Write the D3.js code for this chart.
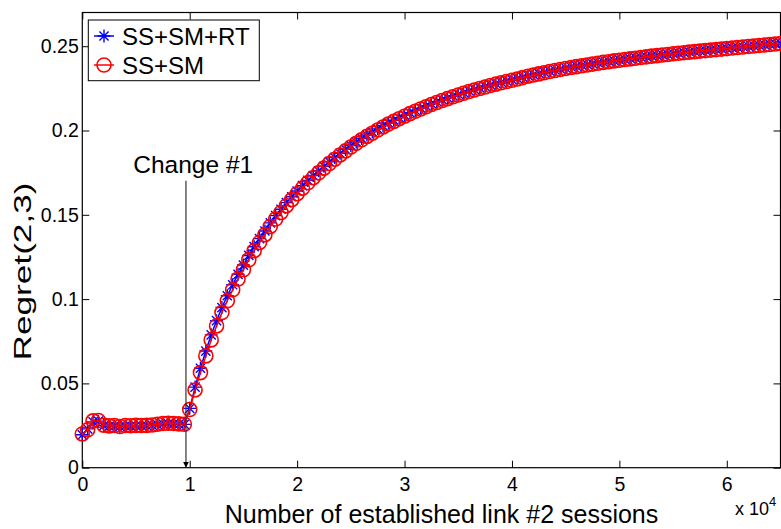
<!DOCTYPE html>
<html>
<head>
<meta charset="utf-8">
<script src="https://cdn.jsdelivr.net/npm/d3@7"></script>
<style>
  html, body { margin: 0; padding: 0; background: #fff; }
  svg { display: block; font-family: "Liberation Sans", Arial, Helvetica, sans-serif; }
</style>
</head>
<body>
<svg id="chart" width="781" height="529"></svg>
<script>
// Sample grid: number of established link #2 sessions (every 500 sessions)
const sessions = d3.range(0, 65001, 500);

// Regret(2,3) with sleeping + stochastic + recent-trend update
const regretSSSMRT = [
  0.0195, 0.0230, 0.0272, 0.0276, 0.0250, 0.0246, 0.0248, 0.0243, 0.0248, 0.0247,
  0.0249, 0.0249, 0.0250, 0.0252, 0.0256, 0.0260, 0.0262, 0.0260, 0.0258, 0.0257,
  0.0352, 0.0478, 0.0590, 0.0692, 0.0788, 0.0872, 0.0950, 0.1020, 0.1085, 0.1147,
  0.1202, 0.1259, 0.1311, 0.1359, 0.1404, 0.1452, 0.1495, 0.1533, 0.1572, 0.1607,
  0.1641, 0.1673, 0.1704, 0.1733, 0.1761, 0.1788, 0.1815, 0.1840, 0.1865, 0.1888,
  0.1911, 0.1932, 0.1953, 0.1973, 0.1992, 0.2010, 0.2028, 0.2045, 0.2061, 0.2076,
  0.2091, 0.2106, 0.2120, 0.2133, 0.2146, 0.2159, 0.2171, 0.2183, 0.2194, 0.2205,
  0.2215, 0.2225, 0.2235, 0.2244, 0.2253, 0.2262, 0.2271, 0.2279, 0.2287, 0.2294,
  0.2302, 0.2309, 0.2317, 0.2325, 0.2332, 0.2339, 0.2346, 0.2353, 0.2359, 0.2365,
  0.2371, 0.2377, 0.2382, 0.2387, 0.2392, 0.2397, 0.2402, 0.2406, 0.2411, 0.2415,
  0.2419, 0.2423, 0.2427, 0.2431, 0.2435, 0.2439, 0.2443, 0.2446, 0.2450, 0.2453,
  0.2457, 0.2460, 0.2463, 0.2467, 0.2470, 0.2473, 0.2476, 0.2479, 0.2482, 0.2485,
  0.2488, 0.2491, 0.2494, 0.2497, 0.2500, 0.2503, 0.2506, 0.2509, 0.2512, 0.2515,
  0.2518
];

// Regret(2,3) with sleeping + stochastic update only
const regretSSSM = [
  0.0200, 0.0225, 0.0278, 0.0280, 0.0252, 0.0248, 0.0250, 0.0244, 0.0250, 0.0249,
  0.0251, 0.0250, 0.0251, 0.0253, 0.0258, 0.0262, 0.0264, 0.0262, 0.0260, 0.0258,
  0.0345, 0.0461, 0.0564, 0.0663, 0.0758, 0.0841, 0.0920, 0.0990, 0.1055, 0.1119,
  0.1174, 0.1233, 0.1287, 0.1336, 0.1382, 0.1431, 0.1475, 0.1514, 0.1554, 0.1590,
  0.1625, 0.1658, 0.1690, 0.1720, 0.1749, 0.1777, 0.1804, 0.1830, 0.1855, 0.1879,
  0.1902, 0.1924, 0.1945, 0.1965, 0.1984, 0.2003, 0.2021, 0.2038, 0.2054, 0.2070,
  0.2085, 0.2100, 0.2114, 0.2128, 0.2141, 0.2154, 0.2166, 0.2178, 0.2189, 0.2200,
  0.2211, 0.2221, 0.2231, 0.2240, 0.2249, 0.2258, 0.2267, 0.2275, 0.2283, 0.2291,
  0.2298, 0.2306, 0.2314, 0.2322, 0.2329, 0.2336, 0.2343, 0.2350, 0.2356, 0.2362,
  0.2368, 0.2374, 0.2379, 0.2384, 0.2389, 0.2394, 0.2399, 0.2404, 0.2408, 0.2413,
  0.2417, 0.2421, 0.2425, 0.2429, 0.2433, 0.2437, 0.2441, 0.2444, 0.2448, 0.2451,
  0.2455, 0.2458, 0.2461, 0.2465, 0.2468, 0.2471, 0.2474, 0.2477, 0.2480, 0.2483,
  0.2486, 0.2489, 0.2492, 0.2495, 0.2498, 0.2501, 0.2504, 0.2507, 0.2510, 0.2513,
  0.2516
];

const seriesNames = ["SS+SM+RT", "SS+SM"];
const seriesColors = ["#0000ff", "#ff0000"];

const xTicks = [0, 10000, 20000, 30000, 40000, 50000, 60000];
const xTickLabels = ["0", "1", "2", "3", "4", "5", "6"];
const yTicks = [0, 0.05, 0.1, 0.15, 0.2, 0.25];
const yTickLabels = ["0", "0.05", "0.1", "0.15", "0.2", "0.25"];

const changePoint = 9650;       // session count where the change occurs
const changeLabel = "Change #1";

// ---- layout ----
const svg = d3.select("#chart");
const plot = { left: 82.3, right: 780.5, top: 12.5, bottom: 467.7 };

const x = d3.scaleLinear().domain([0, 65000]).range([plot.left, plot.right]);
const y = d3.scaleLinear().domain([0, 0.27]).range([plot.bottom, plot.top]);

// ---- axes (MATLAB style: ticks pointing inward, on all four sides) ----
const tickLen = 7;
const axisFont = 19.5;

function styleAxis(g) {
  g.select(".domain").remove();
  g.selectAll(".tick line").attr("stroke", "#000").attr("stroke-width", 1);
  g.selectAll(".tick text").attr("fill", "#000").style("font-size", axisFont + "px");
}

svg.append("g")
  .attr("transform", `translate(0,${plot.bottom})`)
  .call(d3.axisBottom(x).tickValues(xTicks).tickFormat((d, i) => xTickLabels[i])
    .tickSizeInner(-tickLen).tickSizeOuter(0).tickPadding(tickLen + 2))
  .call(styleAxis);

svg.append("g")
  .attr("transform", `translate(0,${plot.top})`)
  .call(d3.axisTop(x).tickValues(xTicks).tickFormat("")
    .tickSizeInner(-tickLen).tickSizeOuter(0))
  .call(styleAxis);

svg.append("g")
  .attr("transform", `translate(${plot.left},0)`)
  .call(d3.axisLeft(y).tickValues(yTicks).tickFormat((d, i) => yTickLabels[i])
    .tickSizeInner(-tickLen).tickSizeOuter(0).tickPadding(3.5))
  .call(styleAxis);

svg.append("g")
  .attr("transform", `translate(${plot.right},0)`)
  .call(d3.axisRight(y).tickValues(yTicks).tickFormat("")
    .tickSizeInner(-tickLen).tickSizeOuter(0))
  .call(styleAxis);

// frame around the plot area
svg.append("rect")
  .attr("x", plot.left).attr("y", plot.top)
  .attr("width", plot.right - plot.left).attr("height", plot.bottom - plot.top)
  .attr("fill", "none").attr("stroke", "#000").attr("stroke-width", 1.2);

// exponent label for the x axis
const expo = svg.append("text")
  .attr("x", 735).attr("y", 515)
  .style("font-size", "18px").attr("fill", "#000");
expo.append("tspan").text("x 10");
expo.append("tspan").attr("dy", -9).style("font-size", "13px").text("4");

// axis titles
svg.append("text")
  .attr("x", 441.5).attr("y", 523)
  .attr("text-anchor", "middle")
  .style("font-size", "25px")
  .text("Number of established link #2 sessions");

svg.append("text")
  .attr("transform", `translate(31,${271.5}) rotate(-90)`)
  .attr("text-anchor", "middle")
  .attr("textLength", 178)
  .attr("lengthAdjust", "spacingAndGlyphs")
  .style("font-size", "24px")
  .text("Regret(2,3)");

// ---- series ----
const markerR = 7;
const starPath = (() => {
  const r = 6.5, d = r * Math.SQRT1_2;
  return `M${-r},0L${r},0M0,${-r}L0,${r}M${-d},${-d}L${d},${d}M${-d},${d}L${d},${-d}`;
})();

const allSeries = [regretSSSMRT, regretSSSM];
const line = d3.line().x(d => x(d[0])).y(d => y(d[1]));

allSeries.forEach((vals, si) => {
  const pts = sessions.map((s, i) => [s, vals[i]]);
  const g = svg.append("g");
  g.append("path")
    .attr("d", line(pts))
    .attr("fill", "none")
    .attr("stroke", seriesColors[si])
    .attr("stroke-width", 1.5);
  if (si === 0) {
    g.selectAll("path.m").data(pts).join("path")
      .attr("class", "m")
      .attr("transform", d => `translate(${x(d[0])},${y(d[1])})`)
      .attr("d", starPath)
      .attr("fill", "none")
      .attr("stroke", seriesColors[si])
      .attr("stroke-width", 1.4);
  } else {
    g.selectAll("circle").data(pts).join("circle")
      .attr("cx", d => x(d[0]))
      .attr("cy", d => y(d[1]))
      .attr("r", markerR)
      .attr("fill", "none")
      .attr("stroke", seriesColors[si])
      .attr("stroke-width", 1.6);
  }
});

// ---- change annotation ----
svg.append("defs").append("marker")
  .attr("id", "arrowhead")
  .attr("viewBox", "0 0 10 10")
  .attr("refX", 10).attr("refY", 5)
  .attr("markerWidth", 6).attr("markerHeight", 6)
  .attr("markerUnits", "userSpaceOnUse")
  .attr("orient", "auto")
  .append("path").attr("d", "M0,0L10,5L0,10Z").attr("fill", "#000");

svg.append("line")
  .attr("x1", x(changePoint)).attr("x2", x(changePoint))
  .attr("y1", 180.7).attr("y2", y(0))
  .attr("stroke", "#333").attr("stroke-width", 1.2)
  .attr("marker-end", "url(#arrowhead)");

svg.append("text")
  .attr("x", 133.3).attr("y", 173.3)
  .style("font-size", "24.5px")
  .text(changeLabel);

// ---- legend ----
const legend = svg.append("g");
legend.append("rect")
  .attr("x", 88.3).attr("y", 20)
  .attr("width", 171).attr("height", 60.7)
  .attr("fill", "#fff").attr("stroke", "#000").attr("stroke-width", 1);

const legendRows = [36, 65];
seriesNames.forEach((name, i) => {
  const ly = legendRows[i];
  legend.append("line")
    .attr("x1", 94).attr("x2", 114).attr("y1", ly).attr("y2", ly)
    .attr("stroke", seriesColors[i]).attr("stroke-width", 1.5);
  if (i === 0) {
    legend.append("path")
      .attr("transform", `translate(104,${ly})`)
      .attr("d", starPath)
      .attr("fill", "none").attr("stroke", seriesColors[i]).attr("stroke-width", 1.4);
  } else {
    legend.append("circle")
      .attr("cx", 104).attr("cy", ly).attr("r", markerR)
      .attr("fill", "none").attr("stroke", seriesColors[i]).attr("stroke-width", 1.6);
  }
  legend.append("text")
    .attr("x", 122).attr("y", ly + 9)
    .style("font-size", "24px")
    .text(name);
});
</script>
</body>
</html>
